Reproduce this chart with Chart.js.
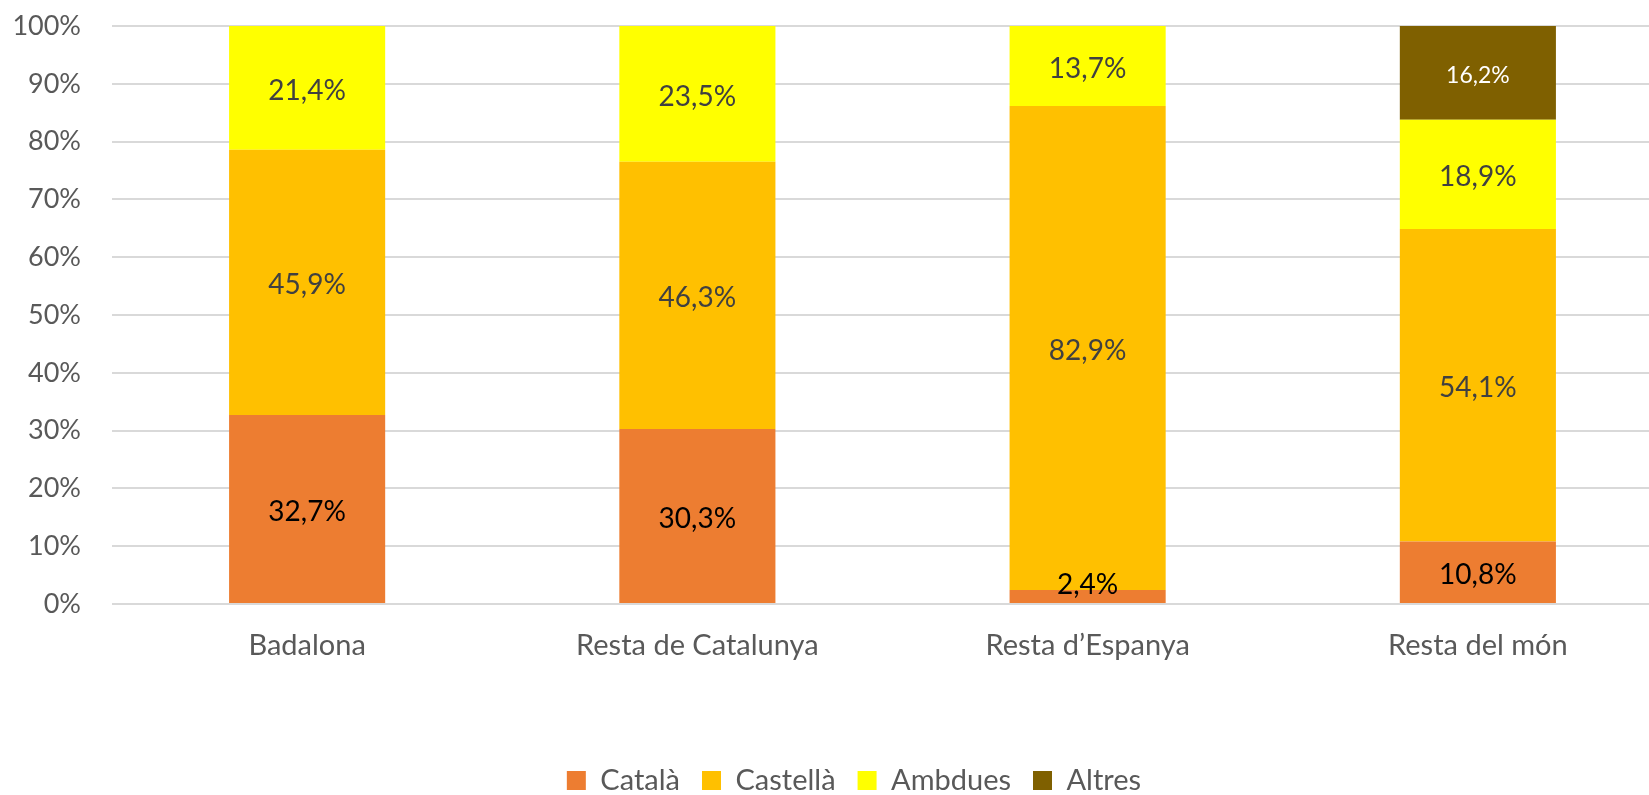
<!DOCTYPE html>
<html>
<head>
<meta charset="utf-8">
<script src="https://cdn.jsdelivr.net/npm/chart.js@4"></script>
<style>
  html, body { margin: 0; padding: 0; background: #fff; overflow: hidden; }
  #wrap { position: relative; width: 1708px; height: 805px; }
</style>
</head>
<body>
<div id="wrap"><canvas id="chart"></canvas></div>
<script>
const categories = ["Badalona", "Resta de Catalunya", "Resta d\u2019Espanya", "Resta del m\u00f3n"];
const catala = [32.7, 30.3, 2.4, 10.8];
const castella = [45.9, 46.3, 82.9, 54.1];
const ambdues = [21.4, 23.5, 13.7, 18.9];
const altres = [0, 0, 0, 16.2];
const yTicks = [0, 10, 20, 30, 40, 50, 60, 70, 80, 90, 100];

const fontFamily = "Lato, 'Open Sans', sans-serif";

// 100% stacked: each column is scaled to its own total
const totals = categories.map((c, i) => catala[i] + castella[i] + ambdues[i] + altres[i]);
const share = arr => arr.map((v, i) => v / totals[i] * 100);

const series = [
  { label: "Català", raw: catala, color: "#ED7D31", text: "#000000", size: 28 },
  { label: "Castellà", raw: castella, color: "#FFC000", text: "#404040", size: 28 },
  { label: "Ambdues", raw: ambdues, color: "#FFFF00", text: "#404040", size: 28 },
  { label: "Altres", raw: altres, color: "#7F6000", text: "#FFFFFF", size: 23 }
];

const barLabels = {
  id: 'barLabels',
  afterDatasetsDraw(chart) {
    const ctx = chart.ctx;
    const area = chart.chartArea;
    ctx.save();
    ctx.textAlign = 'center';
    ctx.textBaseline = 'middle';
    chart.data.datasets.forEach((ds, di) => {
      const s = series[di];
      const meta = chart.getDatasetMeta(di);
      meta.data.forEach((bar, i) => {
        const v = s.raw[i];
        if (!v) return;
        let y = (bar.y + bar.base) / 2 + 3;
        y = Math.min(y, area.bottom - 19);
        ctx.font = s.size + "px " + fontFamily;
        ctx.fillStyle = s.text;
        ctx.fillText(v.toFixed(1).replace('.', ',') + '%', bar.x, y);
      });
    });
    ctx.restore();
  }
};

// legend is centred on the whole chart box, not only up to the right padding
const legendShift = {
  id: 'legendShift',
  afterLayout(chart) {
    chart.legend.left = 35;
  }
};

new Chart(document.getElementById('chart'), {
  type: 'bar',
  data: {
    labels: categories,
    datasets: series.map(s => ({
      label: s.label,
      data: share(s.raw),
      backgroundColor: s.color,
      borderWidth: 0,
      barPercentage: 0.4,
      categoryPercentage: 1
    }))
  },
  options: {
    responsive: true,
    maintainAspectRatio: false,
    animation: false,
    layout: { padding: { left: 0, right: 35, top: 26, bottom: 0 } },
    plugins: {
      legend: {
        position: 'bottom',
        labels: {
          boxWidth: 19,
          boxHeight: 19,
          padding: 22,
          color: '#595959',
          font: { family: fontFamily, size: 29 }
        }
      },
      tooltip: { enabled: false }
    },
    scales: {
      x: {
        stacked: true,
        grid: { display: false, drawTicks: false },
        border: { display: false },
        ticks: { color: '#595959', padding: 24, font: { family: fontFamily, size: 29 } },
        afterFit(scale) { scale.height = 140; }
      },
      y: {
        stacked: true,
        min: 0,
        max: 100,
        afterBuildTicks(scale) { scale.ticks = yTicks.map(v => ({ value: v })); },
        grid: { color: '#D9D9D9', lineWidth: 2, drawTicks: true, tickLength: 31, tickColor: 'rgba(0,0,0,0)' },
        border: { display: false },
        ticks: {
          color: '#595959',
          padding: 0,
          font: { family: fontFamily, size: 27 },
          callback: v => v + '%'
        },
        afterFit(scale) { scale.width = 112; }
      }
    }
  },
  plugins: [barLabels, legendShift]
});
</script>
</body>
</html>
